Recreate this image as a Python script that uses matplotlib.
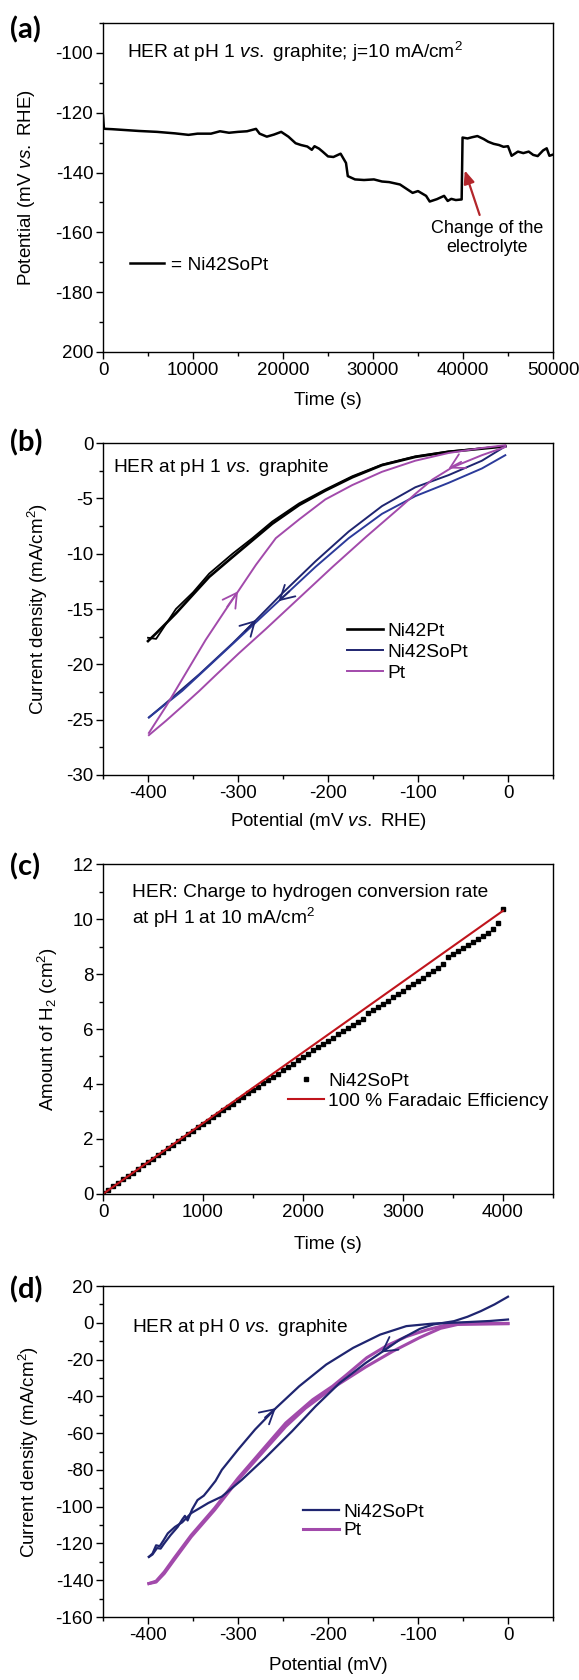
import matplotlib
matplotlib.use('Agg')
import matplotlib.pyplot as plt
from matplotlib.ticker import MultipleLocator

plt.rcParams['font.family'] = 'Liberation Sans'
plt.rcParams['font.size'] = 13.5
plt.rcParams['mathtext.fontset'] = 'custom'
plt.rcParams['mathtext.rm'] = 'Liberation Sans'
plt.rcParams['mathtext.it'] = 'Liberation Sans:italic'
plt.rcParams['mathtext.bf'] = 'Liberation Sans:bold'
plt.rcParams['axes.unicode_minus'] = False
plt.rcParams['axes.linewidth'] = 1.0

NAVY = '#1f2570'
PURPLE = '#a24aab'
TXT = 13.8  # in-plot annotations and legends

# ---------------- (a) chronopotentiometry ----------------
t_a = [0, 100, 300, 1000, 2500, 4000, 6000, 8000, 9500, 10500, 12000, 13000, 14000, 15000,
       16000, 17000, 17400, 18200, 19000, 19800, 20600, 21400, 22000, 22700, 23200, 23500,
       24000, 24400, 25000, 25600, 26400, 27000, 27200, 28000, 29000, 30100, 31000, 31800,
       33000, 33800, 34400, 35000, 35900, 36300, 37100, 37900, 38300, 38700, 39200, 39850,
       39950, 40500, 41000, 41600, 42300, 42800, 43400, 44000, 44500, 45000, 45400, 46100,
       46700, 47300, 47800, 48300, 48900, 49300, 49600, 50000]
v_a = [-121.0, -125.3, -125.4, -125.5, -125.8, -126.1, -126.4, -126.9, -127.4, -127.0,
       -127.0, -126.2, -126.7, -126.4, -126.2, -125.4, -127.0, -128.0, -127.3, -126.4,
       -128.0, -130.2, -130.8, -131.3, -132.4, -131.2, -132.0, -133.0, -134.6, -134.8,
       -133.7, -136.8, -141.2, -142.3, -142.5, -142.3, -143.0, -143.2, -144.0, -145.6,
       -146.8, -146.2, -147.8, -149.7, -148.9, -147.8, -149.5, -148.8, -149.2, -149.0,
       -128.3, -128.6, -128.2, -127.8, -128.8, -129.7, -130.4, -130.8, -131.4, -131.2,
       -134.4, -133.0, -133.5, -133.0, -134.1, -134.5, -132.6, -131.9, -134.4, -134.0]
a_yticks = [-200, -180, -160, -140, -120, -100]
a_yticklabels = ['200', '-180', '-160', '-140', '-120', '-100']
a_arrow_tip = (40200, -139.3)
a_arrow_tail = (42700, -156.0)

# ---------------- (b) CV at pH 1 ----------------
b_ni42pt_v = [-400, -391, -369, -350, -332, -306, -284, -262, -232, -203, -173, -140, -103, -66, -10, -3]
b_ni42pt_fwd = [-17.9, -17.2, -15.4, -13.7, -12.1, -10.3, -8.8, -7.3, -5.6, -4.3, -3.1, -2.0, -1.26, -0.8, -0.36, -0.3]
b_ni42pt_rev = [-17.6, -17.7, -15.0, -13.5, -11.8, -10.0, -8.6, -7.1, -5.45, -4.2, -3.0, -1.95, -1.2, -0.75, -0.33, -0.3]

b_pt_up_v = [-399, -380, -358, -336, -314, -299, -280, -258, -232, -203, -173, -140, -103, -66, -29, -3]
b_pt_up_j = [-26.2, -23.8, -20.8, -17.8, -15.1, -13.3, -11.0, -8.6, -6.9, -5.1, -3.8, -2.6, -1.6, -0.9, -0.45, -0.2]
b_pt_dn_v = [-3, -29, -62, -84, -103, -121, -158, -195, -232, -269, -299, -325, -343, -362, -380, -399]
b_pt_dn_j = [-0.36, -1.1, -2.2, -3.3, -4.6, -5.9, -8.5, -11.2, -14.0, -16.8, -19.0, -21.0, -22.4, -23.8, -25.1, -26.4]

b_so_up_v = [-399, -380, -343, -306, -280, -251, -214, -177, -140, -103, -66, -29, -3]
b_so_up_j = [-24.8, -23.5, -20.9, -18.1, -16.0, -13.6, -10.7, -8.0, -5.7, -4.0, -2.9, -1.6, -0.3]
b_so_dn_v = [-3, -29, -66, -103, -140, -177, -214, -251, -288, -325, -362, -399]
b_so_dn_j = [-1.1, -2.3, -3.6, -4.8, -6.4, -8.6, -11.2, -14.0, -16.8, -19.6, -22.4, -24.8]

# arrows: (from_v, from_j, to_v, to_j, colour)
b_arrows = [(-312, -14.8, -300, -13.4, PURPLE),
            (-52, -1.7, -66, -2.3, PURPLE),
            (-292, -17.0, -280, -16.0, NAVY),
            (-243, -13.4, -255, -14.3, NAVY)]

# ---------------- (c) H2 evolution ----------------
c_time = [0, 50, 100, 150, 200, 250, 300, 350, 400, 450, 500, 550, 600, 650, 700, 750,
          800, 850, 900, 950, 1000, 1050, 1100, 1150, 1200, 1250, 1300, 1350, 1400, 1450,
          1500, 1550, 1600, 1650, 1700, 1750, 1800, 1850, 1900, 1950, 2000, 2050, 2100,
          2150, 2200, 2250, 2300, 2350, 2400, 2450, 2500, 2550, 2600, 2650, 2700, 2750,
          2800, 2850, 2900, 2950, 3000, 3050, 3100, 3150, 3200, 3250, 3300, 3350, 3400,
          3450, 3500, 3550, 3600, 3650, 3700, 3750, 3800, 3850, 3900, 3950, 4000]
c_h2 = [0.02, 0.15, 0.28, 0.40, 0.53, 0.66, 0.78, 0.91, 1.04, 1.16, 1.29, 1.41, 1.54, 1.66,
        1.79, 1.91, 2.04, 2.17, 2.29, 2.42, 2.54, 2.67, 2.79, 2.92, 3.04, 3.17, 3.29, 3.41,
        3.54, 3.66, 3.78, 3.90, 4.02, 4.14, 4.26, 4.38, 4.50, 4.62, 4.74, 4.86, 4.98, 5.10,
        5.22, 5.34, 5.46, 5.57, 5.69, 5.80, 5.92, 6.03, 6.14, 6.26, 6.38, 6.58, 6.68, 6.80,
        6.91, 7.03, 7.15, 7.27, 7.39, 7.51, 7.63, 7.75, 7.87, 7.99, 8.11, 8.23, 8.36, 8.62,
        8.72, 8.83, 8.94, 9.05, 9.16, 9.27, 9.38, 9.50, 9.62, 9.84, 10.35]
fe_time = [0, 4000]
fe_h2 = [0, 10.3]

# ---------------- (d) CV at pH 0 ----------------
d_so_a_v = [-399, -395, -390, -386, -382, -375, -367, -362, -359, -356, -351, -345, -338, -333,
            -325, -318, -300, -281, -258, -232, -202, -172, -142, -113, -83, -45, -20, 0]
d_so_a_j = [-127.3, -126.0, -122.5, -122.8, -120.0, -115.5, -111.0, -107.0, -105.0, -107.5,
            -101.5, -96.4, -94.0, -91.0, -86.0, -80.0, -69.0, -58.0, -46.4, -34.5, -22.7,
            -13.6, -6.4, -1.8, -0.4, 0.4, 1.0, 1.8]
d_so_b_v = [0, -15, -30, -45, -60, -83, -98, -120, -139, -158, -187, -214, -240, -270, -296,
            -318, -333, -345, -352, -362, -370, -378, -383, -387, -391, -395, -399]
d_so_b_j = [14.2, 10.0, 6.4, 3.3, 0.9, -0.9, -3.3, -9.1, -15.5, -21.8, -32.7, -45.5, -59.0,
            -73.6, -85.5, -94.5, -98.0, -101.5, -103.5, -108.5, -111.0, -114.5, -118.5,
            -121.5, -121.0, -125.5, -127.3]
d_pt_f_v = [0, -56, -75, -98, -128, -158, -195, -225, -247, -270, -300, -326, -352, -371, -382, -391, -399]
d_pt_f_j = [-0.5, -0.9, -3.0, -8.0, -15.5, -24.0, -35.5, -46.4, -56.4, -69.0, -85.5, -101.8,
            -116.4, -129.0, -136.4, -141.0, -141.8]
d_pt_r_v = [-399, -391, -382, -371, -352, -326, -300, -270, -247, -217, -195, -180, -157, -135,
            -113, -90, -69, -50, 0]
d_pt_r_j = [-141.8, -140.5, -135.5, -128.0, -115.5, -100.8, -84.5, -67.5, -54.5, -41.8, -34.5,
            -28.5, -19.0, -12.5, -7.5, -3.8, -1.2, -0.3, -0.3]
d_arrows = [(-270, -51.5, -258, -46.4, NAVY),
            (-130, -12.3, -141, -16.1, NAVY)]


def style_axis(ax, xmaj, xmin, ymaj, ymin):
    ax.xaxis.set_major_locator(MultipleLocator(xmaj))
    ax.xaxis.set_minor_locator(MultipleLocator(xmin))
    ax.yaxis.set_major_locator(MultipleLocator(ymaj))
    ax.yaxis.set_minor_locator(MultipleLocator(ymin))
    ax.tick_params(which='both', direction='out', top=False, right=False, width=1.0)
    ax.tick_params(which='major', length=5, pad=2)
    ax.tick_params(which='minor', length=3)


def arrowhead(ax, x0, y0, x1, y1, color):
    ax.annotate('', xy=(x1, y1), xytext=(x0, y0),
                arrowprops=dict(arrowstyle='->,head_length=0.5,head_width=0.28',
                                color=color, lw=1.3, shrinkA=0, shrinkB=0,
                                mutation_scale=20))


fig = plt.figure(figsize=(5.79, 16.8), dpi=100)

# ---- (a)
ax = fig.add_axes([0.1779, 0.7905, 0.7772, 0.1958])
ax.plot(t_a, v_a, color='black', lw=1.8, label='= Ni42SoPt')
ax.set_xlim(0, 50000)
ax.set_ylim(-200, -90)
style_axis(ax, 10000, 5000, 20, 10)
ax.set_yticks(a_yticks)
ax.set_yticklabels(a_yticklabels)
ax.set_xlabel('Time (s)')
ax.set_ylabel(r'Potential (mV $\it{vs.}$ RHE)')
ax.xaxis.set_label_coords(0.5, -0.122)
ax.yaxis.set_label_coords(-0.147, 0.5)
ax.text(0.053, 0.893, r'HER at pH 1 $\it{vs.}$ graphite; j=10 mA/cm$^2$',
        transform=ax.transAxes, va='baseline', ha='left', fontsize=TXT)
ax.annotate('Change of the\nelectrolyte', xy=a_arrow_tip, xytext=a_arrow_tail,
            ha='center', va='top', fontsize=12.9, linespacing=1.1,
            arrowprops=dict(arrowstyle='-|>,head_length=0.6,head_width=0.25',
                            color='#b3262b', lw=1.6, shrinkA=2, shrinkB=0))
ax.legend(loc='center left', bbox_to_anchor=(0.06, 0.264), frameon=False, fontsize=TXT,
          handlelength=1.75, handletextpad=0.4, borderpad=0, borderaxespad=0)
fig.text(0.018, 0.982, '(a)', fontsize=21, fontweight='bold', family='Lato', va='center')

# ---- (b)
ax = fig.add_axes([0.1779, 0.5387, 0.7772, 0.1976])
ax.plot(b_ni42pt_v, b_ni42pt_fwd, color='black', lw=1.9, label='Ni42Pt')
ax.plot(b_ni42pt_v, b_ni42pt_rev, color='black', lw=1.3)
ax.plot(b_so_up_v, b_so_up_j, color=NAVY, lw=1.4, label='Ni42SoPt')
ax.plot(b_so_dn_v, b_so_dn_j, color='#2b3a9a', lw=1.4)
ax.plot(b_pt_up_v, b_pt_up_j, color=PURPLE, lw=1.4, label='Pt')
ax.plot(b_pt_dn_v, b_pt_dn_j, color=PURPLE, lw=1.4)
for x0, y0, x1, y1, c in b_arrows:
    arrowhead(ax, x0, y0, x1, y1, c)
ax.set_xlim(-450, 50)
ax.set_ylim(-30, 0)
style_axis(ax, 100, 50, 5, 2.5)
ax.set_xlabel(r'Potential (mV $\it{vs.}$ RHE)')
ax.set_ylabel(r'Current density (mA/cm$^2$)')
ax.xaxis.set_label_coords(0.5, -0.108)
ax.yaxis.set_label_coords(-0.118, 0.5)
ax.text(0.023, 0.912, r'HER at pH 1 $\it{vs.}$ graphite', transform=ax.transAxes,
        va='baseline', ha='left', fontsize=TXT)
ax.legend(loc='center left', bbox_to_anchor=(0.542, 0.370), frameon=False, fontsize=TXT,
          handlelength=1.9, handletextpad=0.2, borderpad=0, borderaxespad=0,
          labelspacing=0.2)
fig.text(0.018, 0.7365, '(b)', fontsize=21, fontweight='bold', family='Lato', va='center')

# ---- (c)
ax = fig.add_axes([0.1779, 0.2893, 0.7772, 0.1964])
ax.plot(c_time, c_h2, ls='none', marker='s', ms=3.0, color='black', label='Ni42SoPt')
ax.plot(fe_time, fe_h2, color='#c0141c', lw=1.5, label='100 % Faradaic Efficiency')
ax.set_xlim(0, 4500)
ax.set_ylim(0, 12)
style_axis(ax, 1000, 500, 2, 1)
ax.set_xlabel('Time (s)')
ax.set_ylabel(r'Amount of H$_2$ (cm$^2$)')
ax.xaxis.set_label_coords(0.5, -0.127)
ax.yaxis.set_label_coords(-0.096, 0.5)
ax.text(0.064, 0.901, 'HER: Charge to hydrogen conversion rate', transform=ax.transAxes,
        va='baseline', ha='left', fontsize=TXT)
ax.text(0.064, 0.818, r'at pH 1 at 10 mA/cm$^2$', transform=ax.transAxes,
        va='baseline', ha='left', fontsize=TXT)
ax.legend(loc='center left', bbox_to_anchor=(0.411, 0.312), frameon=False, numpoints=1,
          fontsize=TXT, handlelength=1.9, handletextpad=0.2, borderpad=0,
          borderaxespad=0, labelspacing=0.15)
fig.text(0.018, 0.4838, '(c)', fontsize=21, fontweight='bold', family='Lato', va='center')

# ---- (d)
ax = fig.add_axes([0.1779, 0.0375, 0.7772, 0.1970])
ax.plot(d_pt_f_v, d_pt_f_j, color=PURPLE, lw=2.2, label='Pt')
ax.plot(d_pt_r_v, d_pt_r_j, color=PURPLE, lw=2.2)
ax.plot(d_so_a_v, d_so_a_j, color=NAVY, lw=1.6, label='Ni42SoPt')
ax.plot(d_so_b_v, d_so_b_j, color=NAVY, lw=1.6)
for x0, y0, x1, y1, c in d_arrows:
    arrowhead(ax, x0, y0, x1, y1, c)
ax.set_xlim(-450, 50)
ax.set_ylim(-160, 20)
style_axis(ax, 100, 50, 20, 10)
ax.set_xlabel('Potential (mV)')
ax.set_ylabel(r'Current density (mA/cm$^2$)')
ax.xaxis.set_label_coords(0.5, -0.121)
ax.yaxis.set_label_coords(-0.138, 0.5)
ax.text(0.064, 0.862, r'HER at pH 0 $\it{vs.}$ graphite', transform=ax.transAxes,
        va='baseline', ha='left', fontsize=TXT)
h, l = ax.get_legend_handles_labels()
ax.legend([h[1], h[0]], [l[1], l[0]], loc='center left', bbox_to_anchor=(0.444, 0.289),
          frameon=False, fontsize=TXT, handlelength=1.9, handletextpad=0.2, borderpad=0,
          borderaxespad=0, labelspacing=0.05)
fig.text(0.018, 0.2321, '(d)', fontsize=21, fontweight='bold', family='Lato', va='center')

fig.savefig('out.png', dpi=100)
